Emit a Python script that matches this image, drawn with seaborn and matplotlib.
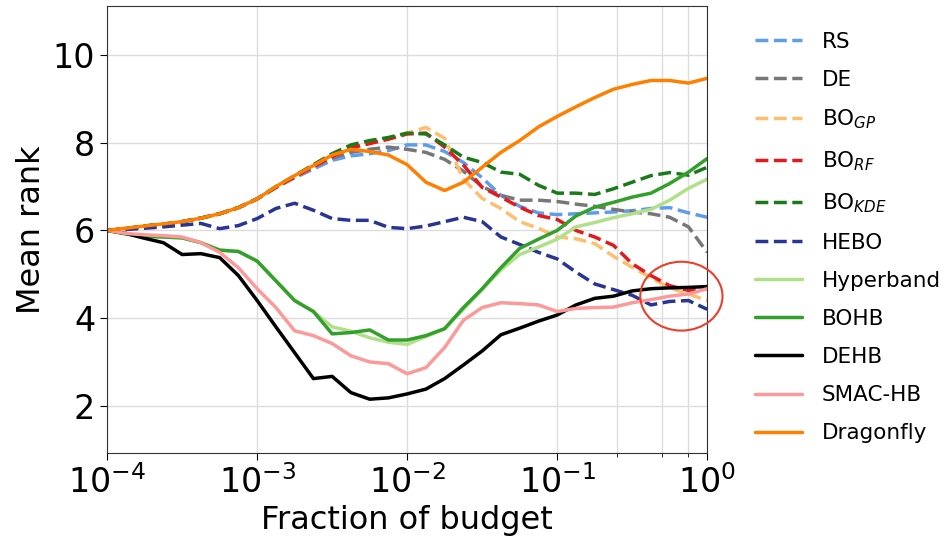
import numpy as np
import matplotlib
matplotlib.use("Agg")
import matplotlib.pyplot as plt
import seaborn as sns
from matplotlib.patches import Ellipse
from matplotlib.ticker import FixedLocator, NullFormatter

# log10 of the budget fraction at which the curves were read
log_budget = [-4.0, -3.875, -3.75, -3.625, -3.5, -3.375, -3.25, -3.125, -3.0,
              -2.875, -2.75, -2.625, -2.5, -2.375, -2.25, -2.125, -2.0,
              -1.875, -1.75, -1.625, -1.5, -1.375, -1.25, -1.125, -1.0,
              -0.875, -0.75, -0.625, -0.5, -0.375, -0.25, -0.125, 0.0]

rs = [6.0, 6.04, 6.1, 6.14, 6.2, 6.28, 6.38, 6.52, 6.72,
      6.98, 7.2, 7.4, 7.6, 7.7, 7.75, 7.82, 7.95,
      7.95, 7.8, 7.55, 7.2, 6.8, 6.55, 6.4, 6.36,
      6.38, 6.4, 6.42, 6.45, 6.5, 6.52, 6.4, 6.3]
de = [6.0, 6.04, 6.1, 6.14, 6.2, 6.28, 6.38, 6.52, 6.72,
      6.98, 7.22, 7.45, 7.65, 7.78, 7.85, 7.9, 7.85,
      7.78, 7.62, 7.35, 7.0, 6.8, 6.69, 6.69, 6.66,
      6.6, 6.55, 6.48, 6.42, 6.38, 6.3, 6.08, 5.5]
bo_gp = [6.0, 6.04, 6.1, 6.14, 6.2, 6.28, 6.38, 6.52, 6.72,
         6.98, 7.22, 7.45, 7.68, 7.88, 8.0, 8.1, 8.22,
         8.35, 8.1, 7.17, 6.73, 6.5, 6.2, 6.05, 5.85,
         5.81, 5.7, 5.41, 5.16, 4.92, 4.69, 4.55, 4.4]
bo_rf = [6.0, 6.04, 6.1, 6.14, 6.2, 6.28, 6.38, 6.52, 6.72,
         6.98, 7.22, 7.45, 7.68, 7.88, 7.98, 8.08, 8.2,
         8.22, 7.9, 7.49, 6.98, 6.76, 6.53, 6.34, 6.25,
         6.0, 5.85, 5.66, 5.24, 4.97, 4.74, 4.63, 4.67]
bo_kde = [6.0, 6.04, 6.1, 6.14, 6.2, 6.28, 6.38, 6.52, 6.72,
          7.0, 7.25, 7.5, 7.75, 7.95, 8.05, 8.12, 8.22,
          8.2, 7.95, 7.67, 7.55, 7.33, 7.28, 7.03, 6.85,
          6.85, 6.82, 6.95, 7.1, 7.25, 7.32, 7.26, 7.44]
hebo = [6.0, 6.02, 6.05, 6.08, 6.12, 6.16, 6.04, 6.11, 6.27,
        6.5, 6.62, 6.46, 6.27, 6.23, 6.23, 6.07, 6.04,
        6.1, 6.2, 6.3, 6.2, 5.85, 5.68, 5.5, 5.35,
        5.05, 4.78, 4.65, 4.52, 4.3, 4.38, 4.4, 4.2]
hyperband = [6.0, 5.92, 5.87, 5.85, 5.83, 5.72, 5.55, 5.52, 5.3,
             4.85, 4.4, 4.15, 3.8, 3.7, 3.55, 3.45, 3.4,
             3.58, 3.75, 4.2, 4.65, 5.1, 5.45, 5.62, 5.8,
             6.08, 6.18, 6.29, 6.38, 6.48, 6.69, 6.96, 7.17]
bohb = [6.0, 5.92, 5.87, 5.85, 5.83, 5.72, 5.55, 5.52, 5.3,
        4.85, 4.4, 4.15, 3.64, 3.67, 3.73, 3.5, 3.5,
        3.6, 3.76, 4.24, 4.67, 5.15, 5.59, 5.8, 6.0,
        6.33, 6.53, 6.64, 6.76, 6.85, 7.07, 7.33, 7.64]
dehb = [6.0, 5.93, 5.82, 5.72, 5.45, 5.47, 5.38, 4.97, 4.4,
        3.8, 3.21, 2.62, 2.67, 2.3, 2.15, 2.18, 2.27,
        2.38, 2.62, 2.93, 3.25, 3.62, 3.77, 3.93, 4.07,
        4.3, 4.45, 4.5, 4.62, 4.67, 4.69, 4.7, 4.72]
smac_hb = [6.0, 5.93, 5.9, 5.88, 5.85, 5.72, 5.5, 5.15, 4.67,
           4.24, 3.71, 3.6, 3.42, 3.14, 3.0, 2.96, 2.73,
           2.87, 3.33, 3.95, 4.24, 4.35, 4.33, 4.3, 4.15,
           4.22, 4.24, 4.25, 4.35, 4.42, 4.5, 4.55, 4.67]
dragonfly = [6.0, 6.05, 6.1, 6.15, 6.2, 6.28, 6.38, 6.52, 6.72,
             7.0, 7.25, 7.48, 7.72, 7.85, 7.8, 7.72, 7.5,
             7.1, 6.91, 7.1, 7.44, 7.78, 8.05, 8.36, 8.6,
             8.82, 9.03, 9.22, 9.33, 9.42, 9.42, 9.36, 9.47]

# (label, values, colour, dashed)
series = [
    ("RS", rs, "#5e9cec", True),
    ("DE", de, "#777777", True),
    ("BO$_{GP}$", bo_gp, "#fdbf6f", True),
    ("BO$_{RF}$", bo_rf, "#e31a1c", True),
    ("BO$_{KDE}$", bo_kde, "#1a7a1a", True),
    ("HEBO", hebo, "#283593", True),
    ("Hyperband", hyperband, "#b2df8a", False),
    ("BOHB", bohb, "#33a02c", False),
    ("DEHB", dehb, "#000000", False),
    ("SMAC-HB", smac_hb, "#fb9a99", False),
    ("Dragonfly", dragonfly, "#ff7f00", False),
]

sns.set_style("ticks")
plt.rcParams["font.family"] = ["DejaVu Sans"]
plt.rcParams["text.color"] = "black"
plt.rcParams["axes.labelcolor"] = "black"
plt.rcParams["xtick.color"] = "black"
plt.rcParams["ytick.color"] = "black"
plt.rcParams["axes.edgecolor"] = "#333333"

budget = 10.0 ** np.array(log_budget)

fig, ax = plt.subplots(figsize=(9.48, 5.42), dpi=100)
fig.subplots_adjust(left=0.113, right=0.746, bottom=0.164, top=0.989)

for label, vals, color, dashed in series:
    sns.lineplot(x=budget, y=vals, ax=ax, color=color, linewidth=2.5,
                 linestyle="--" if dashed else "-", label=label)

ax.set_xscale("log")
ax.set_xlim(1e-4, 1)
ax.set_ylim(0.92, 11.12)
ax.set_yticks([2, 4, 6, 8, 10])
ax.xaxis.set_minor_locator(FixedLocator([0.25, 0.5, 0.75]))
ax.xaxis.set_minor_formatter(NullFormatter())
ax.grid(True, which="major", color="#dddddd", linewidth=1)
ax.grid(True, which="minor", axis="x", color="#dddddd", linewidth=1)
ax.set_axisbelow(True)
ax.tick_params(axis="both", which="major", labelsize=24, length=5)
ax.tick_params(axis="x", which="minor", length=3)

ax.set_xlabel("Fraction of budget", fontsize=23)
ax.set_ylabel("Mean rank", fontsize=23)

# red circle highlighting the end of the budget
ax.add_patch(Ellipse((0.957, 0.351), 0.137, 0.154, transform=ax.transAxes,
                     fill=False, edgecolor="#e8402a", linewidth=1.5,
                     clip_on=False, zorder=5))

ax.legend(loc="upper left", bbox_to_anchor=(1.065, 0.962), frameon=False,
          fontsize=15.5, handlelength=2.2, handletextpad=0.9,
          labelspacing=0.84, borderaxespad=0)

plt.savefig("out.png", dpi=100)
